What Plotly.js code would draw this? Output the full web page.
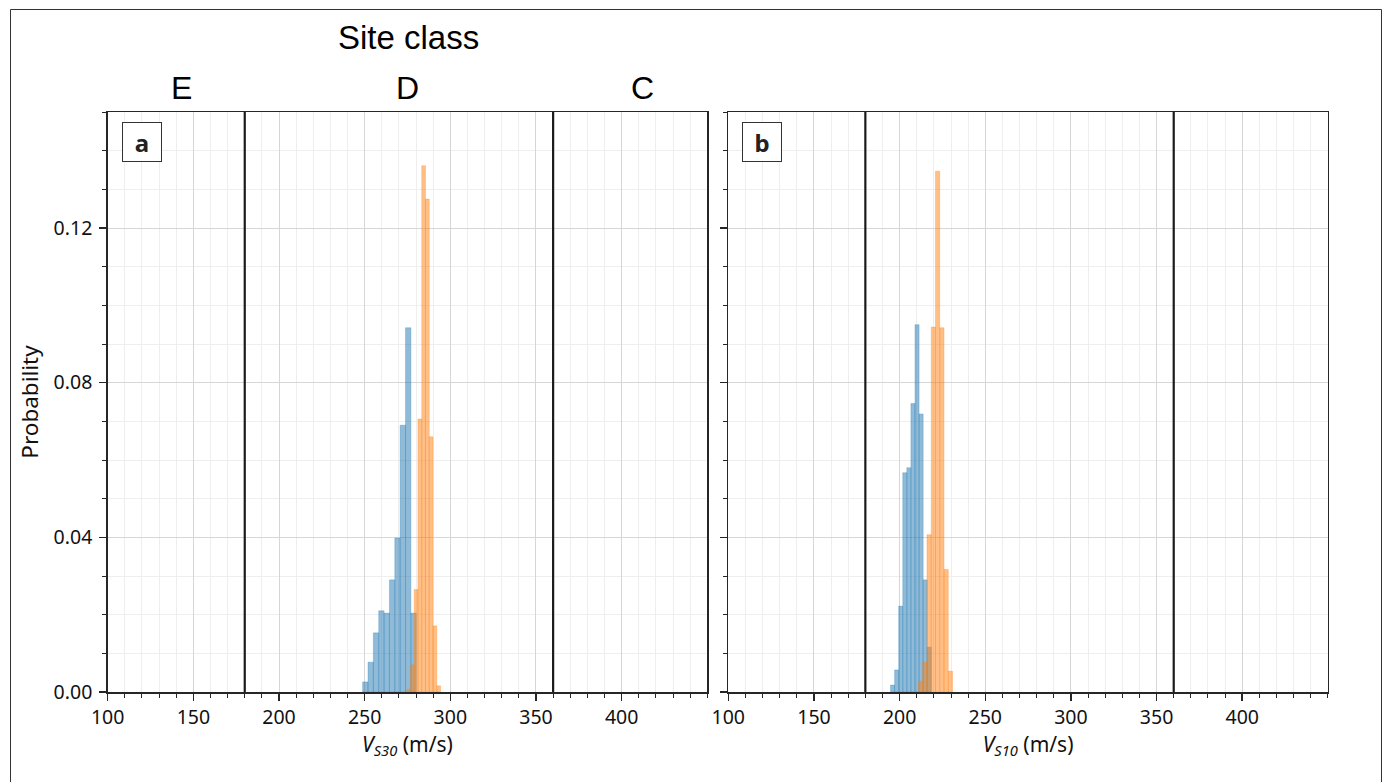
<!DOCTYPE html>
<html>
<head>
<meta charset="utf-8">
<script src="https://cdn.plot.ly/plotly-3.0.1.min.js"></script>
<style>
  html, body { margin: 0; padding: 0; background: #ffffff; }
  #chart { width: 1387px; height: 782px; }
</style>
</head>
<body>
<div id="chart"></div>
<script>
// ---- data ----
// Panel a: V_S30 histograms (probability density)
const vs30BinWidthBlue = 3.13;
const vs30BinsBlue = [250.37, 253.50, 256.63, 259.76, 262.89, 266.02, 269.15, 272.28, 275.41, 278.54];
const vs30ProbBlue = [0.0026, 0.0077, 0.0153, 0.0210, 0.0204, 0.0290, 0.0398, 0.0690, 0.0942, 0.0204];

const vs30BinWidthOrange = 2.2;
const vs30BinsOrange = [275.6, 277.8, 280.0, 282.2, 284.4, 286.6, 288.8, 291.0, 293.2];
const vs30ProbOrange = [0.0007, 0.0070, 0.0265, 0.0706, 0.1361, 0.1275, 0.0660, 0.0171, 0.0016];

// Panel b: V_S10 histograms
const vs10BinWidthBlue = 2.38;
const vs10BinsBlue = [195.89, 198.27, 200.65, 203.03, 205.41, 207.79, 210.17, 212.55, 214.93, 217.31];
const vs10ProbBlue = [0.0018, 0.0057, 0.0222, 0.0567, 0.0580, 0.0746, 0.0950, 0.0719, 0.0290, 0.0116];

const vs10BinWidthOrange = 2.49;
const vs10BinsOrange = [212.24, 214.73, 217.22, 219.71, 222.20, 224.68, 227.17, 229.66];
const vs10ProbOrange = [0.0028, 0.0077, 0.0407, 0.0944, 0.1347, 0.0942, 0.0317, 0.0054];

// Site class boundaries and labels
const siteClassBounds = [180, 360];
const siteClassLabels = ['E', 'D', 'C'];

// axis ticks
const xTickVals = [100, 150, 200, 250, 300, 350, 400];
const yTickVals = [0, 0.04, 0.08, 0.12];
const panelLabels = ['a', 'b'];

// ---- styling ----
const W = 1387, H = 782;
const px = v => v / W;          // pixel -> paper x
const py = v => 1 - v / H;      // pixel -> paper y

const blueFill = 'rgba(31,119,180,0.5)';
const orangeFill = 'rgba(255,127,14,0.5)';
const blueEdge = 'rgba(31,119,180,0.35)';
const orangeEdge = 'rgba(255,127,14,0.35)';
const spine = '#262626';
const tickFont = {family: 'Noto Sans, Open Sans, sans-serif', size: 19.5, color: '#111'};
const titleFont = {family: 'Noto Sans, Open Sans, sans-serif', size: 21, color: '#111'};

function fill(n, v) { return Array.from({length: n}, () => v); }

function barTrace(x, y, w, color, edge, xa, ya) {
  return {
    type: 'bar', x: x, y: y, width: fill(x.length, w),
    xaxis: xa, yaxis: ya,
    marker: {color: color, line: {color: edge, width: 0.8}},
    hoverinfo: 'x+y', showlegend: false
  };
}

const traces = [
  barTrace(vs30BinsBlue, vs30ProbBlue, vs30BinWidthBlue, blueFill, blueEdge, 'x', 'y'),
  barTrace(vs30BinsOrange, vs30ProbOrange, vs30BinWidthOrange, orangeFill, orangeEdge, 'x', 'y'),
  barTrace(vs10BinsBlue, vs10ProbBlue, vs10BinWidthBlue, blueFill, blueEdge, 'x2', 'y2'),
  barTrace(vs10BinsOrange, vs10ProbOrange, vs10BinWidthOrange, orangeFill, orangeEdge, 'x2', 'y2')
];

function xAxis(domain, anchor, title) {
  return {
    domain: domain, anchor: anchor, range: [100, 450],
    tickmode: 'array', tickvals: xTickVals,
    ticks: 'outside', ticklen: 7, tickwidth: 1.5, tickcolor: spine,
    tickfont: tickFont,
    showline: true, linecolor: spine, linewidth: 1.5, mirror: true,
    showgrid: true, gridcolor: '#d6d6d6', gridwidth: 1,
    zeroline: false,
    minor: {dtick: 10, tick0: 100, ticks: 'outside', ticklen: 4, tickwidth: 1, tickcolor: spine,
            showgrid: true, gridcolor: '#eeeeee', gridwidth: 1},
    title: {text: title, font: titleFont, standoff: 8},
    automargin: false, fixedrange: true
  };
}
function yAxis(anchor, showLabels, title) {
  const ax = {
    domain: [py(692), py(112)], anchor: anchor, range: [0, 0.15],
    tickmode: 'array', tickvals: yTickVals, tickformat: '.2f',
    showticklabels: showLabels,
    ticks: 'outside', ticklen: 7, tickwidth: 1.5, tickcolor: spine,
    tickfont: tickFont, ticklabelstandoff: 3,
    showline: true, linecolor: spine, linewidth: 1.5, mirror: true,
    showgrid: true, gridcolor: '#d6d6d6', gridwidth: 1,
    zeroline: false,
    minor: {dtick: 0.01, tick0: 0, ticks: 'outside', ticklen: 4, tickwidth: 1, tickcolor: spine,
            showgrid: true, gridcolor: '#eeeeee', gridwidth: 1},
    automargin: false, fixedrange: true
  };
  if (title) ax.title = {text: title, font: {family: titleFont.family, size: 22.5, color: '#111'}, standoff: 8};
  return ax;
}

const shapes = [];
// site-class boundary lines in both panels
[['x', 'y domain'], ['x2', 'y2 domain']].forEach(([xr, yr]) => {
  siteClassBounds.forEach(b => {
    shapes.push({type: 'line', xref: xr, yref: yr, x0: b, x1: b, y0: 0, y1: 1,
                 line: {color: '#1a1a1a', width: 2.2}, layer: 'above'});
  });
});
// outer figure frame
shapes.push({type: 'rect', xref: 'paper', yref: 'paper',
             x0: px(10.5), x1: px(1381.5), y0: py(800), y1: py(9.5),
             line: {color: '#333', width: 1}, fillcolor: 'rgba(0,0,0,0)', layer: 'below'});

const annFont = {family: 'Liberation Sans, Arial, sans-serif', size: 32, color: '#000'};
const annotations = [
  {text: 'Site class', xref: 'paper', yref: 'paper', x: px(408), y: py(38),
   xanchor: 'center', yanchor: 'middle', showarrow: false,
   font: {family: annFont.family, size: 33, color: '#000'}},
  {text: siteClassLabels[0], xref: 'paper', yref: 'paper', x: px(181), y: py(88),
   xanchor: 'center', yanchor: 'middle', showarrow: false, font: annFont},
  {text: siteClassLabels[1], xref: 'paper', yref: 'paper', x: px(407), y: py(88),
   xanchor: 'center', yanchor: 'middle', showarrow: false, font: annFont},
  {text: siteClassLabels[2], xref: 'paper', yref: 'paper', x: px(642), y: py(88),
   xanchor: 'center', yanchor: 'middle', showarrow: false, font: annFont}
];
[[142, panelLabels[0]], [762, panelLabels[1]]].forEach(([cx, lab]) => {
  annotations.push({text: '<b>' + lab + '</b>', xref: 'paper', yref: 'paper',
    x: px(cx), y: py(142), xanchor: 'center', yanchor: 'middle', showarrow: false,
    width: 38, height: 38, borderpad: 0, borderwidth: 1, bordercolor: '#333',
    bgcolor: '#ffffff', align: 'center', valign: 'middle',
    font: {family: 'Noto Sans, Open Sans, sans-serif', size: 24, color: '#222'}});
});

const layout = {
  width: W, height: H,
  margin: {l: 0, r: 0, t: 0, b: 0, pad: 0},
  paper_bgcolor: '#ffffff', plot_bgcolor: '#ffffff',
  barmode: 'overlay', bargap: 0, showlegend: false,
  xaxis: xAxis([px(107.7), px(707.3)], 'y', '<i>V</i><sub><i>S30</i></sub> (m/s)'),
  yaxis: yAxis('x', true, 'Probability'),
  xaxis2: xAxis([px(728.3), px(1327.9)], 'y2', '<i>V</i><sub><i>S10</i></sub> (m/s)'),
  yaxis2: yAxis('x2', false, ''),
  shapes: shapes,
  annotations: annotations
};

Plotly.newPlot('chart', traces, layout, {staticPlot: true, displayModeBar: false});
</script>
</body>
</html>
